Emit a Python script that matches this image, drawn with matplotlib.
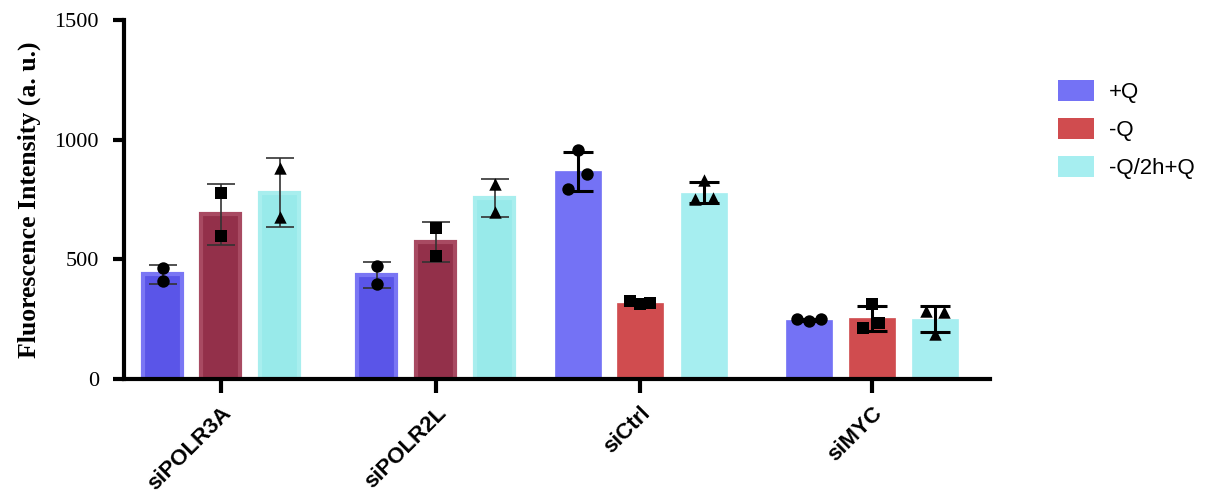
import numpy as np
import matplotlib
matplotlib.use("Agg")
import matplotlib.pyplot as plt
from matplotlib.patches import Patch

# replicate measurements per knockdown and condition
groups = ["siPOLR3A", "siPOLR2L", "siCtrl", "siMYC"]
conditions = ["+Q", "-Q", "-Q/2h+Q"]
plus_q = [[465, 410], [473, 397], [955, 855, 795], [252, 244, 250]]
minus_q = [[778, 599], [630, 514], [325, 312, 318], [312, 215, 232]]
rescue_q = [[880, 676], [813, 699], [830, 752, 755], [285, 280, 190]]
yticks = [0, 500, 1000, 1500]

# layout (x in axis units)
group_pos = [97, 312, 516, 748]
offsets = [[-58, 0, 59], [-59, 0, 59], [-62, 0, 64], [-63, 0, 63]]
widths = [39, 39, 46, 46]
jitter = [[0, 0], [0, 0], [0, 9, -10], [-12, 0, 12]]
jitter_sq = [[0, 0], [0, 0], [-10, 0, 10], [0, -9, 7]]
jitter_tri = [[0, 0], [0, 0], [0, -9, 9], [-9, 9, 0]]
face = [["#5A55E8", "#93304A", "#98EAEA"], ["#5A55E8", "#93304A", "#98EAEA"],
        ["#7472F5", "#D04C4F", "#A6EEF0"], ["#7472F5", "#D04C4F", "#A6EEF0"]]
edge = [["#7A76F4", "#A84A62", "#A8EEEE"], ["#7A76F4", "#A84A62", "#A8EEEE"],
        ["#7472F5", "#D04C4F", "#A6EEF0"], ["#7472F5", "#D04C4F", "#A6EEF0"]]
markers = ["o", "s", "^"]

fig = plt.figure(figsize=(12.14, 4.93), dpi=100)
ax = fig.add_axes([0.1021, 0.2312, 0.7134, 0.7282])

series = [plus_q, minus_q, rescue_q]
jits = [jitter, jitter_sq, jitter_tri]
for g in range(len(groups)):
    thick = g >= 2
    for c in range(3):
        vals = np.array(series[c][g], dtype=float)
        mean = vals.mean()
        sd = vals.std(ddof=1)
        x = group_pos[g] + offsets[g][c]
        ax.bar(x, mean, width=widths[g], color=face[g][c], edgecolor=edge[g][c],
               linewidth=3 if not thick else 0.5, zorder=1)
        ax.errorbar(x, mean, yerr=sd, fmt="none", ecolor="black" if thick else "#333333",
                    elinewidth=2.2 if thick else 1.2, capsize=11 if thick else 10,
                    capthick=2.2 if thick else 1.2, zorder=3)
        xs = x + np.array(jits[c][g])
        ax.scatter(xs, vals, marker=markers[c], s=80 if c != 1 else 85,
                   color="black", zorder=4, linewidths=0)

ax.set_xlim(0, 866)
ax.set_ylim(0, 1500)
ax.set_yticks(yticks)
ax.set_yticklabels([str(t) for t in yticks], family="Liberation Serif", fontsize=16)
ax.set_xticks(group_pos)
ax.set_xticklabels(groups, rotation=45, ha="right", rotation_mode="anchor",
                   family="Liberation Sans", fontweight="bold", fontsize=16)
ax.set_ylabel("Fluorescence Intensity (a. u.)", family="Liberation Serif",
              fontweight="bold", fontsize=18.5, labelpad=10)

for side in ["top", "right"]:
    ax.spines[side].set_visible(False)
for side in ["left", "bottom"]:
    ax.spines[side].set_linewidth(3)
ax.tick_params(axis="y", length=8, width=3, direction="out", pad=10)
ax.tick_params(axis="x", length=10, width=3, direction="out", pad=7)

handles = [Patch(facecolor=col, edgecolor="none") for col in ["#7472F5", "#D04C4F", "#A6EEF0"]]
fig.legend(handles, conditions, loc="upper left", bbox_to_anchor=(0.855, 0.878),
           frameon=False, prop={"family": "Liberation Sans", "size": 16},
           handlelength=1.6, handleheight=1.05, labelspacing=0.68, handletextpad=0.7)

fig.savefig("out.png", dpi=100)
